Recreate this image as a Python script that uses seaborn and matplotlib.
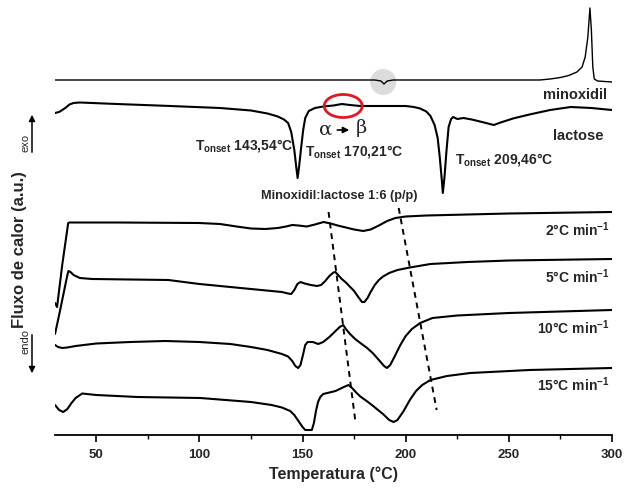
import numpy as np
import pandas as pd
import matplotlib
matplotlib.use("Agg")
import matplotlib.pyplot as plt
from matplotlib.patches import Ellipse, FancyArrowPatch
from matplotlib.ticker import MultipleLocator
import seaborn as sns

# ---------------- data (temperature in °C, heat flow in arbitrary units) ----------------
T_minox = [30, 185, 188, 189.5, 191, 194, 265, 270, 275, 279, 283, 285.5, 287, 288.3, 289.3,
           290.0, 290.7, 291.4, 293, 300]
y_minox = [355, 355, 354, 351, 354, 355, 355, 356, 357.5, 359.5, 363, 368, 378, 398, 427,
           405, 368, 356, 354, 353]

T_lact = [30, 32, 35, 37, 39, 42, 60, 86, 110, 125, 133, 138, 141, 143, 144.5, 146, 147,
          147.6, 148.3, 149.3, 150.3, 151.3, 153, 156, 160, 165, 169, 173, 178, 190, 200,
          204, 207, 210, 212, 214, 215.5, 216.5, 217.5, 218, 218.8, 219.8, 220.8, 222, 223,
          225, 228, 232, 237, 242.7, 246, 252, 260, 270, 280, 290, 300]
y_lact = [322, 323, 327, 330.5, 332, 332.5, 331, 329, 327, 324.5, 321.5, 318.5, 315.5, 312,
          303, 285, 267, 257, 268, 287, 305, 317, 324, 327, 328.5, 329.5, 331, 330, 329, 329,
          329, 328, 326.5, 323.5, 319, 310, 297, 278, 255, 242, 258, 285, 308, 316, 318,
          316, 317, 315.5, 313, 310, 312.5, 316.5, 320.5, 325, 328, 327, 325]

T_2 = [30, 31, 33.5, 36.4, 37, 60, 100, 110, 118, 125, 132, 138, 142, 145, 148, 152, 156,
       160.2, 163.6, 167, 171, 175, 179.4, 183, 187, 191, 195, 200, 210, 250, 300]
y_2 = [132, 128, 170, 212, 212.5, 212.5, 212, 211, 208.5, 206.5, 206, 207, 208.5, 210, 209.5,
       208.5, 210.5, 213, 211.5, 209.5, 207.5, 205.5, 204, 205.5, 209.5, 214, 217, 218.5,
       219.5, 221.5, 223]

T_5 = [30, 32, 34, 36, 36.5, 37.5, 39, 42, 48, 85, 100, 120, 140, 143, 144.5, 146, 147.5,
       149, 151, 154, 157, 159, 161, 163, 165, 165.9, 167, 169, 171, 173.1, 175, 177, 178.8,
       180, 181.5, 183, 185, 187, 189, 192, 196, 202, 212, 230, 250, 300]
y_5 = [101, 120, 140, 160, 164, 163, 160, 157, 156, 155, 151, 147, 143, 141.5, 141, 145, 151,
       153, 151.5, 150, 149, 150, 154, 159, 162.5, 163, 160.5, 156, 152.5, 148, 144, 138, 133,
       133, 137, 143, 150, 155, 158.5, 162, 165, 167.5, 171, 173, 174.5, 176]

T_10 = [30, 31.5, 33.5, 36, 40, 50, 66.5, 83.4, 100, 115, 125, 133, 140, 143, 145, 146.5,
        147.9, 149, 150.2, 151.3, 152.5, 155, 157.6, 160, 163, 166, 168, 169.7, 171, 173,
        175.5, 178, 181, 184, 187, 189.5, 190.9, 192.5, 194.5, 197.4, 200, 203, 207, 213,
        225, 250, 300]
y_10 = [90, 88, 87, 87.5, 89, 91.5, 93, 94, 93, 91, 88, 85, 81, 78.5, 74, 69, 67, 70, 80, 90,
        93, 93, 91, 93, 98, 104, 108, 110, 106, 101, 96, 92, 87.5, 82, 75, 69, 67, 70, 78,
        90, 99, 106, 112, 117, 119.5, 122, 125]

T_15 = [30, 32, 34, 36, 38, 40, 43.2, 50, 70, 100.4, 125, 135, 140, 144, 146, 148, 150, 151.3,
        154.5, 155.5, 156.5, 157.5, 158.6, 160, 162, 166, 170, 172.3, 174, 176, 178, 180.4,
        183, 186, 189, 192, 194.1, 196, 199, 202, 205, 208, 212, 220, 231.3, 260, 300]
y_15 = [30, 25, 23, 26, 32, 37, 41.5, 40, 38, 37, 33, 30, 27.5, 24, 20, 14, 8, 5, 5, 12, 24,
        33, 38, 41, 42, 44, 48, 50, 47, 42.5, 38.5, 35, 31, 26, 21, 15, 13, 15, 24, 35, 44,
        50, 55, 59, 62, 65, 67]

# dashed guide lines (peak shift with heating rate)
dash1_T = [162.6, 175.7]
dash1_y = [223, 12]
dash2_T = [196.6, 215.0]
dash2_y = [227, 25]

curve_names = ["minoxidil", "lactose", "2", "5", "10", "15"]
rate_labels = ["2°C min$^{-1}$", "5°C min$^{-1}$", "10°C min$^{-1}$", "15°C min$^{-1}$"]

# ---------------- style ----------------
sns.set_theme(style="white")
plt.rcParams['font.family'] = ['Liberation Sans', 'DejaVu Sans']
plt.rcParams['mathtext.fontset'] = 'custom'
plt.rcParams['mathtext.rm'] = 'Liberation Sans'
plt.rcParams['mathtext.bf'] = 'Liberation Sans:bold'
plt.rcParams['mathtext.default'] = 'bf'

fig = plt.figure(figsize=(6.24, 4.88), dpi=100)
ax = fig.add_axes([55/624, 53/488, 557/624, 435/488])

series = [(T_minox, y_minox, 1.0), (T_lact, y_lact, 1.5), (T_2, y_2, 1.5),
          (T_5, y_5, 1.5), (T_10, y_10, 1.5), (T_15, y_15, 1.5)]
for name, (tx, ty, lw) in zip(curve_names, series):
    df = pd.DataFrame({"T": tx, "flux": ty})
    sns.lineplot(data=df, x="T", y="flux", ax=ax, color="black", lw=lw,
                 estimator=None, sort=False, legend=False)

for tx, ty in [(dash1_T, dash1_y), (dash2_T, dash2_y)]:
    sns.lineplot(x=tx, y=ty, ax=ax, color="black", lw=1.4, linestyle=(0, (3, 2.5)),
                 estimator=None, sort=False, legend=False)

# highlight marks
ax.add_patch(Ellipse((189.1, 353), 12.6, 26, facecolor="#d9d9d9", edgecolor="none",
                     alpha=0.9, zorder=0))
ax.add_patch(Ellipse((169.7, 329), 18.4, 23, facecolor="none", edgecolor="#e0191f",
                     lw=2.0, zorder=5))

ax.set_xlim(30, 300)
ax.set_ylim(0, 435)

for s in ["left", "top", "right"]:
    ax.spines[s].set_visible(False)
ax.spines["bottom"].set_linewidth(1.3)
ax.spines["bottom"].set_color("black")
ax.set_yticks([])
ax.xaxis.set_minor_locator(MultipleLocator(25))
ax.set_xticks([50, 100, 150, 200, 250, 300])
ax.set_xticklabels(["50", "100", "150", "200", "250", "300"], fontweight="bold", fontsize=9.5)
ax.tick_params(axis="x", which="major", direction="out", length=5, width=1.2,
               color="black", bottom=True, pad=5)
ax.tick_params(axis="x", which="minor", direction="out", length=3, width=1.0,
               color="black", bottom=True)
ax.set_xlabel("Temperatura (°C)", fontsize=11.5, fontweight="bold", labelpad=4)
ax.set_ylabel("")

# y axis label and exo/endo arrows (figure pixel coords)
def fx(px):
    return px / 624
def fy(py):
    return 1 - py / 488

fig.text(fx(20), fy(250), "Fluxo de calor (a.u.)", rotation=90, ha="center", va="center",
         fontsize=12, fontweight="bold")
fig.text(fx(25), fy(143), "exo", rotation=90, ha="center", va="center", fontsize=8)
fig.text(fx(25), fy(342), "endo", rotation=90, ha="center", va="center", fontsize=8)
fig.add_artist(FancyArrowPatch((fx(32), fy(155)), (fx(32), fy(112)),
               transform=fig.transFigure, arrowstyle="-|>", mutation_scale=9, lw=1.1,
               color="black"))
fig.add_artist(FancyArrowPatch((fx(32), fy(332)), (fx(32), fy(376)),
               transform=fig.transFigure, arrowstyle="-|>", mutation_scale=9, lw=1.1,
               color="black"))

# text annotations in data coordinates
ax.text(297.7, 340, "minoxidil", ha="right", va="center", fontsize=10.5, fontweight="bold")
ax.text(295.8, 299, "lactose", ha="right", va="center", fontsize=10.5, fontweight="bold")

ax.text(98, 290, "T$_{onset}$ 143,54°C", ha="left", va="center", fontsize=10, fontweight="bold")
ax.text(151.3, 283, "T$_{onset}$ 170,21°C", ha="left", va="center", fontsize=10, fontweight="bold")
ax.text(224, 275, "T$_{onset}$ 209,46°C", ha="left", va="center", fontsize=10, fontweight="bold")

ax.text(161.3, 305, "α", ha="center", va="center", fontsize=14, family="DejaVu Serif")
ax.text(178.3, 307, "β", ha="center", va="center", fontsize=14, family="DejaVu Serif")
ax.annotate("", xy=(174, 305), xytext=(165.5, 305),
            arrowprops=dict(arrowstyle="-|>", color="black", lw=1.2, mutation_scale=9))

ax.text(130, 239, "Minoxidil:lactose 1:6 (p/p)", ha="left", va="center", fontsize=9.2,
        fontweight="bold")

rate_y = [205, 158, 107, 50]
for lab, ry in zip(rate_labels, rate_y):
    ax.text(299, ry, lab, ha="right", va="center", fontsize=10, fontweight="bold")

fig.savefig("out.png", dpi=100)
